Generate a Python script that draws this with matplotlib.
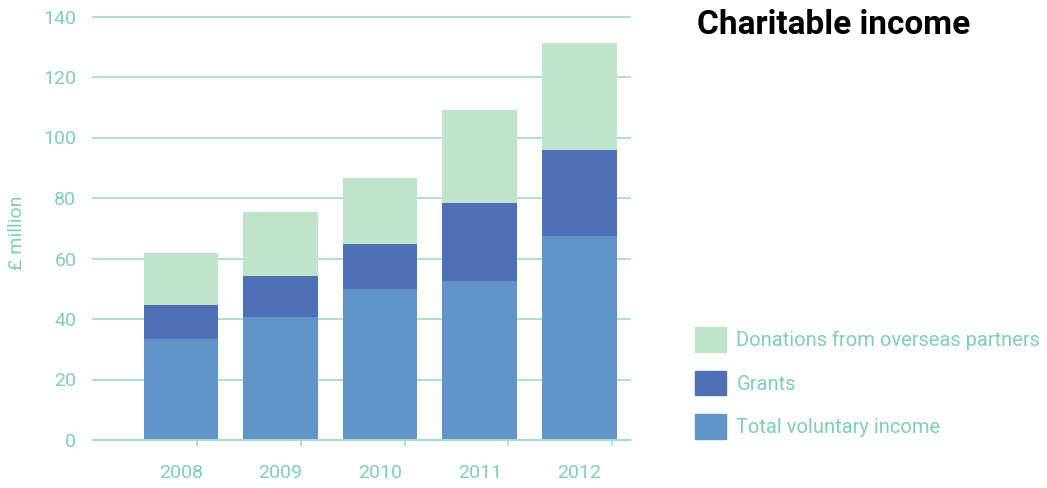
import numpy as np
import matplotlib
matplotlib.use("Agg")
import matplotlib.pyplot as plt
from matplotlib.patches import Patch

years = ["2008", "2009", "2010", "2011", "2012"]
voluntary = [33.4, 40.7, 49.9, 52.6, 67.4]
grants = [11.2, 13.5, 14.9, 25.7, 28.5]
donations = [17.2, 21.2, 21.8, 30.8, 35.3]
yticks = [0, 20, 40, 60, 80, 100, 120, 140]

teal = "#7fcfb8"
grid_c = "#a6dccd"
c_vol = "#6195c8"
c_grants = "#5070b6"
c_don = "#c0e3cb"

plt.rcParams['font.family'] = ['Roboto', 'DejaVu Sans']

fig = plt.figure(figsize=(10.47, 4.88), dpi=100)
ax = fig.add_axes([93/1047, 1-440/488, (630-93)/1047, (440-16.5)/488])

x = np.arange(len(years))
w = 0.75
vol = np.array(voluntary)
gr = np.array(grants)
ax.bar(x, vol, w, color=c_vol, zorder=3)
ax.bar(x, gr, w, bottom=vol, color=c_grants, zorder=3)
ax.bar(x, donations, w, bottom=vol+gr, color=c_don, zorder=3)

ax.set_xlim(-0.884, 4.51)
ax.set_ylim(0, 140)
ax.set_yticks(yticks)
ax.set_xticks(x)
ax.set_xticklabels(years)
ax.set_xticks([0.16, 1.205, 2.25, 3.28, 4.33], minor=True)

for s in ["top", "right", "left"]:
    ax.spines[s].set_visible(False)
ax.spines["bottom"].set_color(grid_c)
ax.spines["bottom"].set_linewidth(1.5)
ax.spines["bottom"].set_zorder(4)

ax.yaxis.grid(True, color=grid_c, linewidth=1.3, zorder=0)
for gl in ax.get_ygridlines():
    gl.set_clip_on(False)
ax.tick_params(axis="y", length=0, pad=12, labelsize=14, labelcolor=teal)
ax.tick_params(axis="x", which="major", length=0, pad=17, labelsize=14, labelcolor=teal)
ax.tick_params(axis="x", which="minor", length=4, width=1.2, color=grid_c, direction="out")

fig.text(17/1047, 1-233/488, "£ million", rotation=90, color=teal, fontsize=14,
         ha="center", va="center")

fig.text(697/1047, 1-25/488, "Charitable income", fontsize=24, fontweight="bold",
         color="black", ha="left", va="center")

handles = [Patch(color=c_don, label="Donations from overseas partners"),
           Patch(color=c_grants, label="Grants"),
           Patch(color=c_vol, label="Total voluntary income")]
fig.legend(handles=handles, loc="upper left", bbox_to_anchor=(695/1047, 1-327/488),
           frameon=False, fontsize=14.5, labelcolor=teal, borderpad=0, borderaxespad=0,
           handlelength=1.55, handleheight=1.5, labelspacing=0.95, handletextpad=0.5)

fig.savefig("out.png", dpi=100)
